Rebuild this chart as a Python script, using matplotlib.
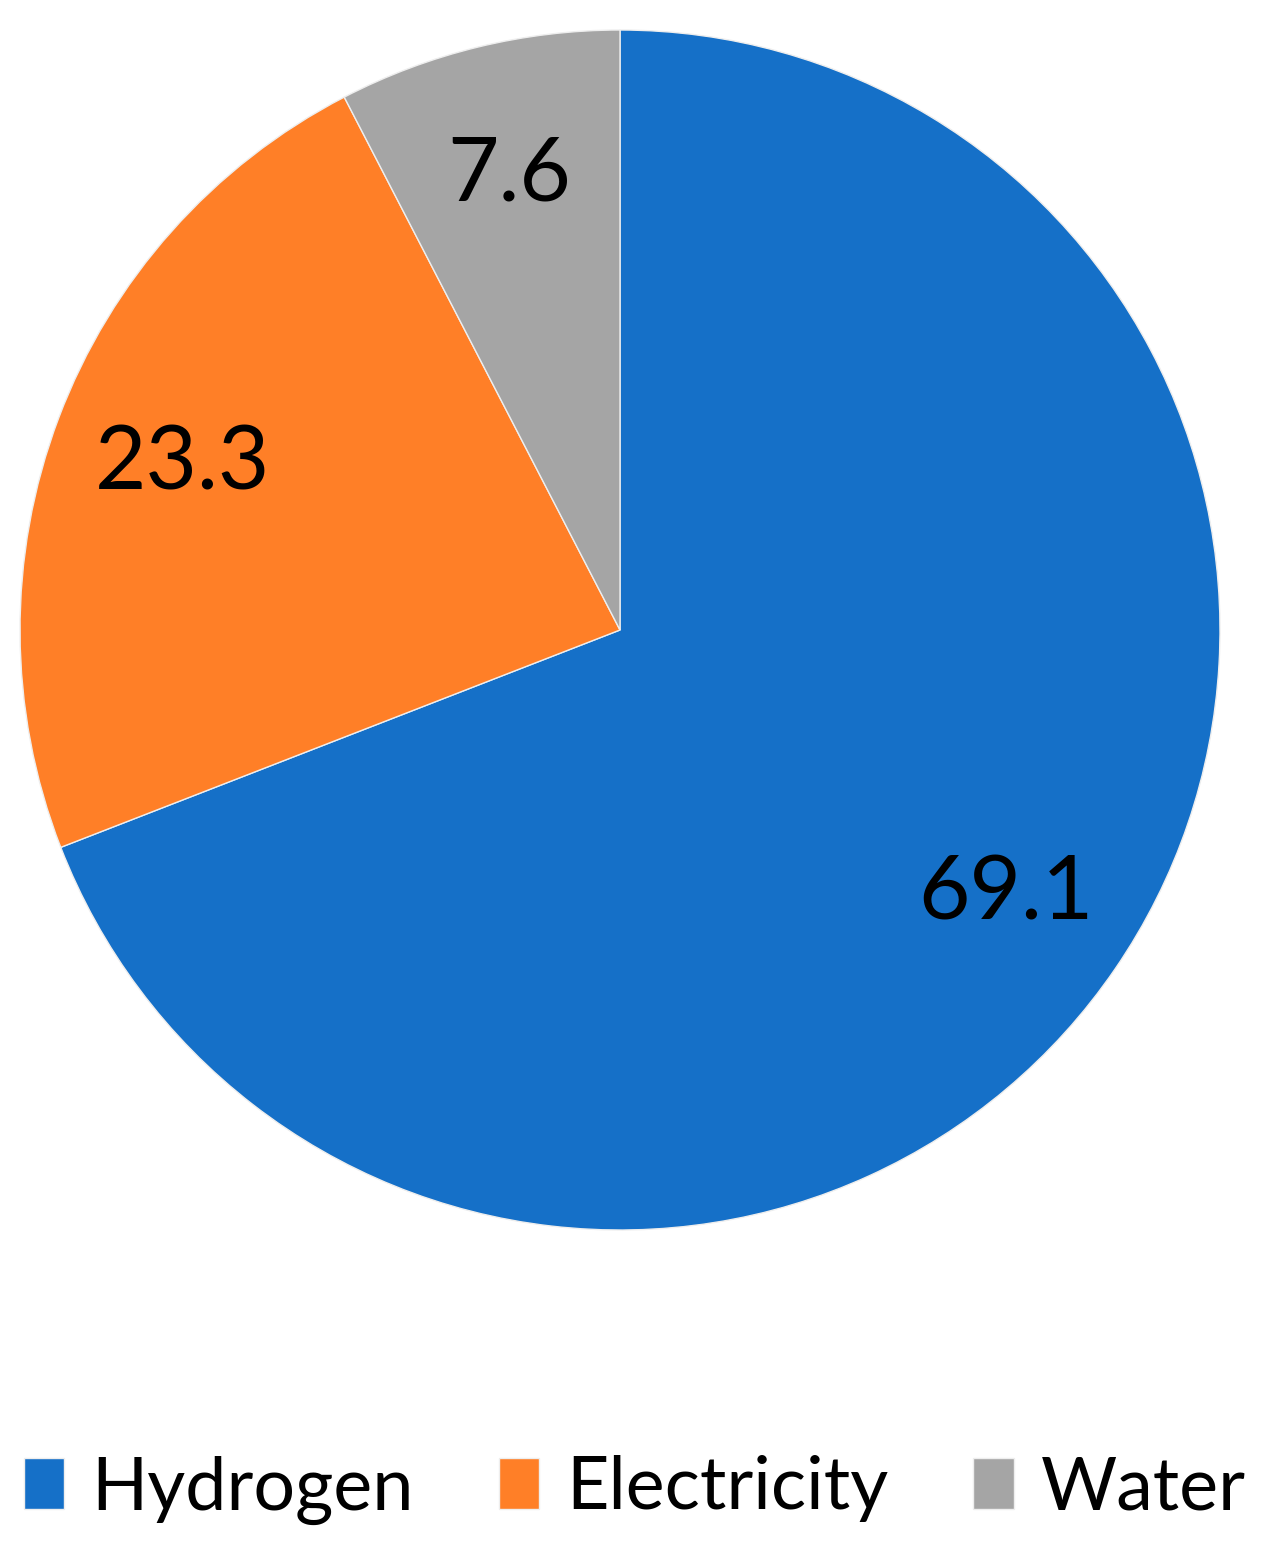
import matplotlib
matplotlib.use("Agg")
import matplotlib.pyplot as plt

categories = ["Hydrogen", "Electricity", "Water"]
values = [69.1, 23.3, 7.6]
colors = ["#1570C8", "#FF7F27", "#A5A5A5"]

plt.rcParams['font.family'] = ['Lato', 'DejaVu Sans']

fig = plt.figure(figsize=(12.7, 15.5), dpi=100)
ax = fig.add_axes([20/1270, 320/1550, 1200/1270, 1200/1550])
wedges, texts, autotexts = ax.pie(
    values, colors=colors, startangle=90, counterclock=False,
    autopct=lambda p: "", pctdistance=0.78, radius=1.0,
    wedgeprops=dict(edgecolor="#EEEEEE", linewidth=1.0))
for t, v in zip(autotexts, values):
    t.set_text(f"{v:.1f}")
    t.set_fontsize(64)
    t.set_color("black")
ax.set_xlim(-1, 1)
ax.set_ylim(-1, 1)
ax.set_aspect("equal")
ax.axis("off")

fig.legend(wedges, categories, loc="center", bbox_to_anchor=(0.5, 60/1550),
           ncol=3, frameon=False, fontsize=53, handlelength=0.55,
           handleheight=0.7, handletextpad=0.37, columnspacing=1.15)

fig.savefig("out.png", dpi=100, facecolor="white")
